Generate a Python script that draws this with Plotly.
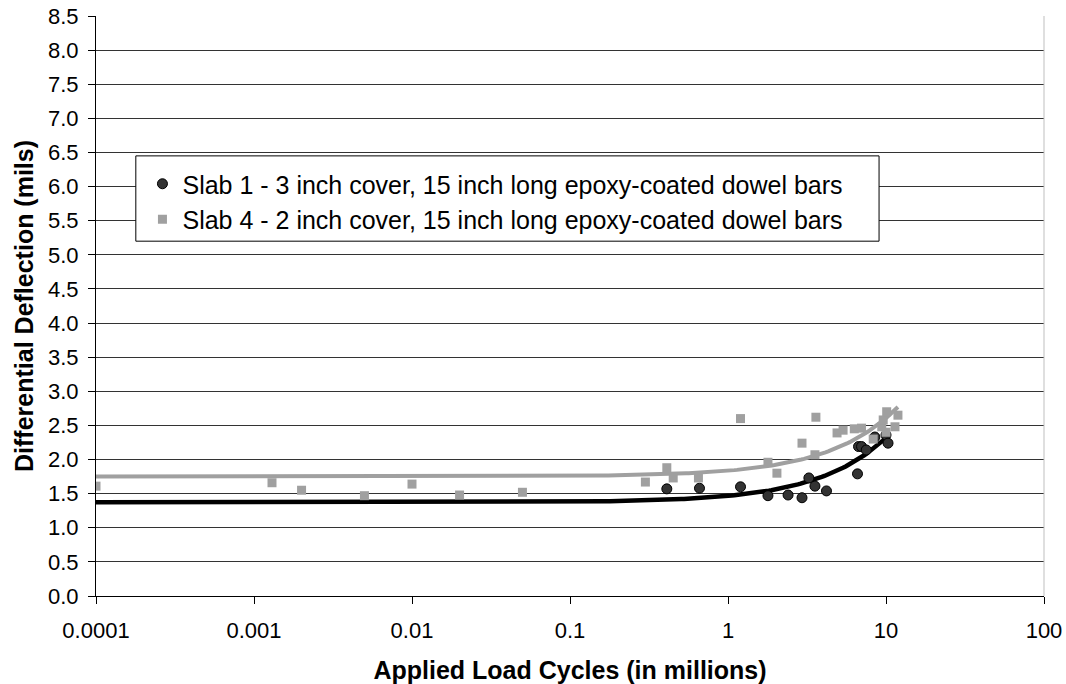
import numpy as np
import plotly.graph_objects as go

# Slab 1 (black circles)
slab1_x = [0.41, 0.66, 1.2, 1.79, 2.4, 2.94, 3.25, 3.55, 4.2, 6.6, 6.7, 7.0, 7.5, 8.5, 10.0, 10.3]
slab1_y = [1.57, 1.58, 1.60, 1.47, 1.48, 1.44, 1.73, 1.61, 1.54, 1.79, 2.19, 2.19, 2.14, 2.33, 2.36, 2.24]

# Slab 4 (gray squares)
slab4_x = [0.0001, 0.0013, 0.002, 0.005, 0.01, 0.02, 0.05, 0.30, 0.41, 0.45, 0.65, 1.2, 1.79, 2.04,
           2.94, 3.55, 3.6, 4.9, 5.35, 6.3, 7.0, 8.3, 9.4, 9.6, 10.0, 10.1, 11.4, 11.9]
slab4_y = [1.61, 1.66, 1.55, 1.47, 1.64, 1.48, 1.52, 1.67, 1.88, 1.73, 1.73, 2.60, 1.96, 1.80,
           2.24, 2.07, 2.62, 2.39, 2.43, 2.45, 2.46, 2.30, 2.48, 2.58, 2.40, 2.70, 2.48, 2.65]

x_tickvals = [0.0001, 0.001, 0.01, 0.1, 1, 10, 100]
x_ticktext = ["0.0001", "0.001", "0.01", "0.1", "1", "10", "100"]

names = ["Slab 1 - 3 inch cover, 15 inch long epoxy-coated dowel bars",
         "Slab 4 - 2 inch cover, 15 inch long epoxy-coated dowel bars"]

FONT = "Liberation Sans, Arial, sans-serif"


def trend(xs, ys):
    b, a = np.polyfit(np.array(xs), np.array(ys), 1)
    xx = np.logspace(-4, np.log10(max(xs)), 300)
    return xx, a + b * xx


fig = go.Figure()

t1x, t1y = trend(slab1_x, slab1_y)
t4x, t4y = trend(slab4_x, slab4_y)

fig.add_trace(go.Scatter(x=t4x, y=t4y, mode="lines", line=dict(color="#A0A0A0", width=4),
                         showlegend=False, hoverinfo="skip"))
fig.add_trace(go.Scatter(x=t1x, y=t1y, mode="lines", line=dict(color="#000000", width=4.5),
                         showlegend=False, hoverinfo="skip"))

fig.add_trace(go.Scatter(x=slab1_x, y=slab1_y, mode="markers", name=names[0], legendgroup="a",
                         marker=dict(symbol="circle", size=10, color="#333333",
                                     line=dict(color="#000000", width=1))))
fig.add_trace(go.Scatter(x=slab4_x, y=slab4_y, mode="markers", name=names[1], legendgroup="b",
                         marker=dict(symbol="square", size=9, color="#A0A0A0",
                                     line=dict(width=0))))

fig.update_layout(
    width=1066, height=684,
    margin=dict(l=96, r=22, t=16, b=88),
    plot_bgcolor="white", paper_bgcolor="white",
    font=dict(family=FONT, size=22, color="black"),
    showlegend=True,
    legend=dict(x=0.049, y=0.750, xanchor="left", yanchor="top",
                bgcolor="rgba(0,0,0,0)", borderwidth=0,
                font=dict(size=25), traceorder="normal", tracegroupgap=2,
                itemsizing="trace"),
    shapes=[
        dict(type="rect", xref="paper", yref="paper", x0=0.042, x1=0.826,
             y0=(5.2 / 8.5), y1=(6.45 / 8.5), fillcolor="white",
             line=dict(color="black", width=1), layer="above"),
        dict(type="line", xref="paper", yref="paper", x0=1, x1=1, y0=0, y1=1,
             line=dict(color="#BFBFBF", width=1), layer="above"),
    ],
    annotations=[
        dict(text="<b>Differential Deflection (mils)</b>", xref="paper", yref="paper",
             x=-0.076, y=0.5, xanchor="center", yanchor="middle", textangle=-90,
             showarrow=False, font=dict(size=25)),
    ],
)

fig.update_xaxes(type="log", range=[-4, 2], tickvals=x_tickvals, ticktext=x_ticktext,
                 ticks="outside", ticklen=7, tickcolor="black", showgrid=False,
                 showline=True, linecolor="black", linewidth=1, zeroline=False,
                 tickfont=dict(size=22), ticklabelstandoff=8, automargin=False,
                 title=dict(text="<b>Applied Load Cycles (in millions)</b>",
                            font=dict(size=25), standoff=19))
fig.update_yaxes(range=[0, 8.5], dtick=0.5, tick0=0, tickformat=".1f",
                 ticks="outside", ticklen=7, tickcolor="black",
                 showgrid=True, gridcolor="#333333", gridwidth=1,
                 showline=True, linecolor="black", linewidth=1, zeroline=False,
                 tickfont=dict(size=22), ticklabelstandoff=5, automargin=False)

fig.write_html("out.html")
